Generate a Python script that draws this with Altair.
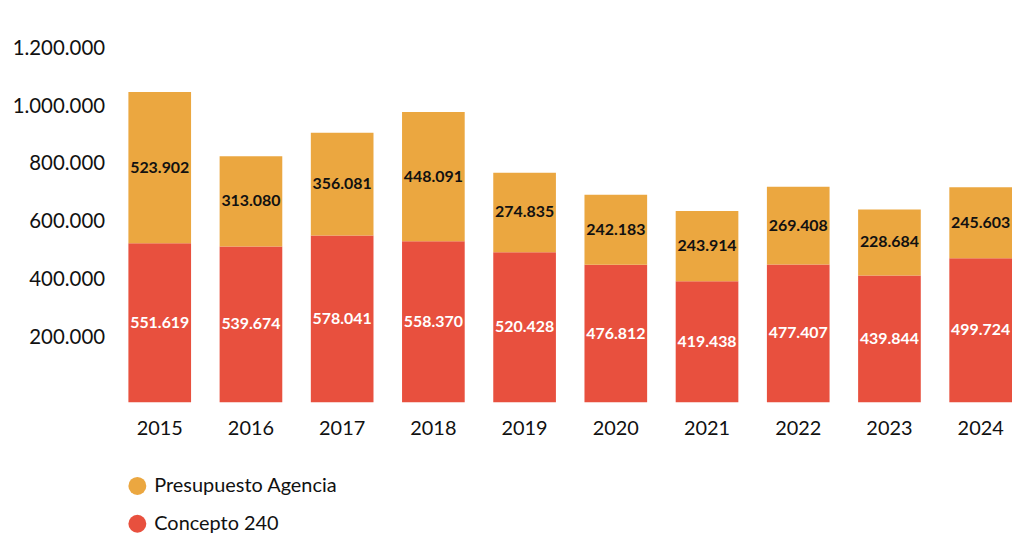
import altair as alt
import pandas as pd

years = ["2015", "2016", "2017", "2018", "2019", "2020", "2021", "2022", "2023", "2024"]
concepto_240 = [551619, 539674, 578041, 558370, 520428, 476812, 419438, 477407, 439844, 499724]
presupuesto_agencia = [523902, 313080, 356081, 448091, 274835, 242183, 243914, 269408, 228684, 245603]
series_names = ["Presupuesto Agencia", "Concepto 240"]
series_colors = ["#EBA740", "#E8503E"]
y_tick_values = [200000, 400000, 600000, 800000, 1000000, 1200000]

rows = []
for i, y in enumerate(years):
    rows.append({"year": y, "serie": "Concepto 240", "order": 0, "value": concepto_240[i]})
    rows.append({"year": y, "serie": "Presupuesto Agencia", "order": 1, "value": presupuesto_agencia[i]})
df = pd.DataFrame(rows)

FONT = "Lato"

base = alt.Chart(df).transform_stack(
    stack="value", groupby=["year"], as_=["v0", "v1"], sort=[alt.SortField("order", order="ascending")]
).transform_calculate(
    mid="(datum.v0 + datum.v1) / 2",
    label="replace(format(datum.value, ',d'), /,/g, '.')",
)

x_enc = alt.X(
    "year:N", sort=years, title=None,
    scale=alt.Scale(paddingInner=0.313, paddingOuter=0),
    axis=alt.Axis(labelAngle=0, labelFontSize=20, labelFont=FONT, labelColor="#111111",
                  ticks=False, domain=False, labelPadding=16),
)
y_scale = alt.Scale(domain=[0, 1200000], nice=False)

bars = base.mark_bar().encode(
    x=x_enc,
    y=alt.Y("v0:Q", scale=y_scale, title=None,
            axis=alt.Axis(values=y_tick_values, labelFontSize=20.5, labelFont=FONT, labelColor="#111111",
                          ticks=False, domain=False, grid=False, labelPadding=24,
                          labelOffset=-7.5,
                          labelExpr="replace(format(datum.value, ',d'), /,/g, '.')")),
    y2="v1:Q",
    color=alt.Color("serie:N", scale=alt.Scale(domain=series_names, range=series_colors),
                    legend=alt.Legend(title=None, orient="none", legendX=-1, legendY=422,
                                      symbolType="circle", symbolSize=324, symbolStrokeWidth=0,
                                      labelFontSize=20, labelFont=FONT, labelColor="#111111",
                                      labelLimit=400,
                                      labelOffset=7, rowPadding=18, padding=0, direction="vertical")),
)

labels = base.mark_text(fontSize=16, font=FONT, fontWeight="bold", baseline="middle").encode(
    x=alt.X("year:N", sort=years),
    y=alt.Y("mid:Q", scale=y_scale),
    text="label:N",
    color=alt.Color("serie:N", scale=alt.Scale(domain=series_names, range=["#111111", "#FFFFFF"]), legend=None),
)

chart = alt.layer(bars, labels).resolve_scale(color="independent").properties(
    width=888, height=348,
    autosize=alt.AutoSizeParams(type="none"),
    padding={"left": 121, "top": 47, "right": 0, "bottom": 130},
    background="#FFFFFF",
).configure_view(stroke=None)

chart.save("out.html", embed_options={"renderer": "svg", "actions": False})
